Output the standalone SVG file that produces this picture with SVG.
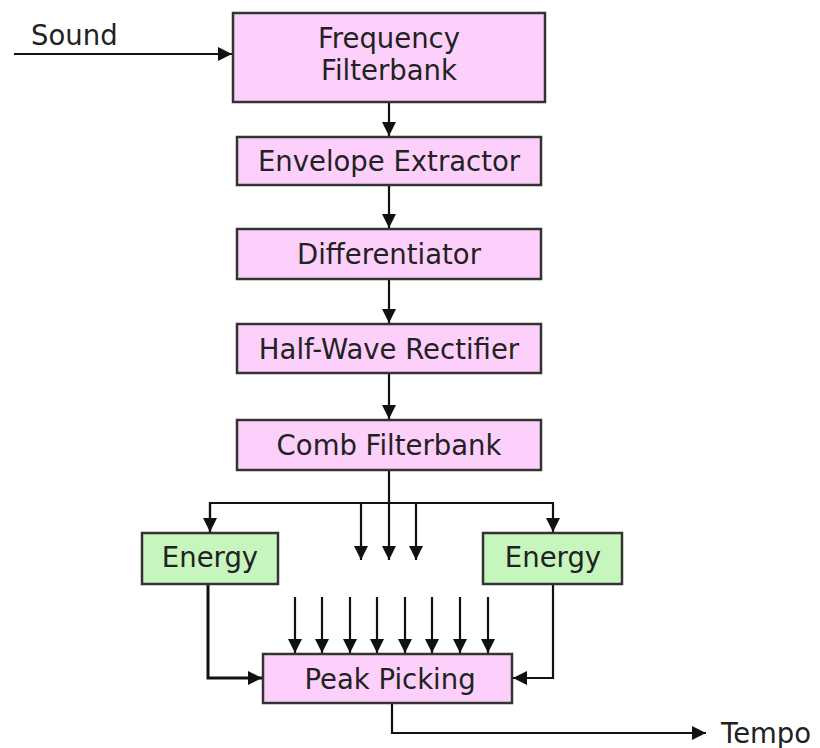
<svg xmlns="http://www.w3.org/2000/svg" width="820" height="748" viewBox="0 0 820 748">
<style>
.pink{fill:#fdd0fb;stroke:#333;stroke-width:2.5}
.green{fill:#c6f5be;stroke:#333;stroke-width:2.5}
text{font-family:"DejaVu Sans",Verdana,sans-serif;font-size:27.5px;fill:#222;text-anchor:middle}
.lbl{text-anchor:start}
.c line,.c polyline{stroke:#111;stroke-width:2.2;fill:none}
</style>
<defs>
<marker id="ah" viewBox="0 0 14 14" refX="14" refY="7" markerWidth="14" markerHeight="14" markerUnits="userSpaceOnUse" orient="auto">
<path d="M0,0 L14,7 L0,14 Z" fill="#111"/>
</marker>
</defs>
<rect width="820" height="748" fill="#fff"/>
<g class="c" id="connectors">
<line x1="14" y1="54" x2="232" y2="54" marker-end="url(#ah)"/>
<line x1="389" y1="102" x2="389" y2="136" marker-end="url(#ah)"/>
<line x1="389" y1="185" x2="389" y2="228" marker-end="url(#ah)"/>
<line x1="389" y1="279" x2="389" y2="323" marker-end="url(#ah)"/>
<line x1="389" y1="373" x2="389" y2="419" marker-end="url(#ah)"/>
<line x1="389" y1="470" x2="389" y2="560" marker-end="url(#ah)"/>
<polyline points="210,532 210,503 553,503 553,532" marker-end="url(#ah)"/>
<line x1="210" y1="503" x2="210" y2="532" marker-end="url(#ah)"/>
<line x1="361" y1="503" x2="361" y2="560" marker-end="url(#ah)"/>
<line x1="416" y1="503" x2="416" y2="560" marker-end="url(#ah)"/>
<line x1="295" y1="597" x2="295" y2="653" marker-end="url(#ah)"/>
<line x1="322" y1="597" x2="322" y2="653" marker-end="url(#ah)"/>
<line x1="350" y1="597" x2="350" y2="653" marker-end="url(#ah)"/>
<line x1="377" y1="597" x2="377" y2="653" marker-end="url(#ah)"/>
<line x1="405" y1="597" x2="405" y2="653" marker-end="url(#ah)"/>
<line x1="432" y1="597" x2="432" y2="653" marker-end="url(#ah)"/>
<line x1="460" y1="597" x2="460" y2="653" marker-end="url(#ah)"/>
<line x1="488" y1="597" x2="488" y2="653" marker-end="url(#ah)"/>
<polyline points="208,584 208,678 262,678" style="stroke-width:3" marker-end="url(#ah)"/>
<polyline points="553,584 553,678 513,678" marker-end="url(#ah)"/>
<polyline points="392,703 392,733 706,733" marker-end="url(#ah)"/>
</g>
<g id="sound"><text class="lbl" x="31" y="45">Sound</text></g>
<g id="tempo"><text class="lbl" x="721" y="743">Tempo</text></g>
<g id="freq"><rect class="pink" x="233" y="13" width="312" height="89"/><text x="389" y="48">Frequency</text><text x="389" y="80">Filterbank</text></g>
<g id="env"><rect class="pink" x="237" y="137" width="304" height="48"/><text x="389" y="171">Envelope Extractor</text></g>
<g id="diff"><rect class="pink" x="237" y="229" width="304" height="50"/><text x="389" y="264">Differentiator</text></g>
<g id="hwr"><rect class="pink" x="237" y="324" width="304" height="49"/><text x="389" y="359">Half-Wave Rectifier</text></g>
<g id="comb"><rect class="pink" x="237" y="420" width="304" height="50"/><text x="389" y="455">Comb Filterbank</text></g>
<g id="energy1"><rect class="green" x="142" y="533" width="136" height="51"/><text x="210" y="567">Energy</text></g>
<g id="energy2"><rect class="green" x="483" y="533" width="139" height="51"/><text x="553" y="567">Energy</text></g>
<g id="peak"><rect class="pink" x="263" y="654" width="249" height="49"/><text x="390" y="689">Peak Picking</text></g>
</svg>
